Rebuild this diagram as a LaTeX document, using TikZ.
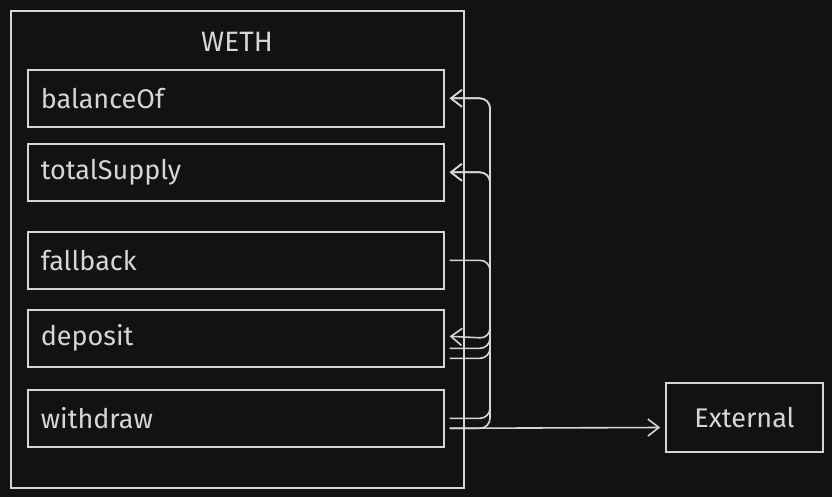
\documentclass[tikz,border=0pt]{standalone}
\usepackage{fontspec}
\setmainfont{Fira Sans}
\usetikzlibrary{arrows.meta,calc,positioning}

\definecolor{bgdark}{HTML}{121212}
\definecolor{inkgray}{HTML}{D6D6D6}

\tikzset{
  fnbox/.style={draw=inkgray, line width=1.6pt, minimum width=416pt, minimum height=57pt,
    anchor=north west, text=inkgray, align=left, text width=390pt, inner sep=0pt,
    font=\fontsize{27}{29}\selectfont},
  conn/.style={draw=inkgray, line width=1.6pt, rounded corners=10pt},
  arr/.style={conn, -{Straight Barb[length=11pt, width=17pt, line width=1.6pt]}},
}

\begin{document}
\begin{tikzpicture}[x=1pt, y=-1pt]
  \fill[bgdark] (0,0) rectangle (832,497);
  \useasboundingbox (0,0) rectangle (832,497);

  % contract and its functions
  \node [draw=inkgray, line width=1.6pt, minimum width=453pt, minimum height=477pt,
    anchor=north west, inner sep=0pt] (weth) at (10,10) {};
  \node [text=inkgray, font=\fontsize{28}{30}\selectfont] (wethlabel) at (237,42) {WETH};
  \node [fnbox] (balanceof) at (27,69) {balanceOf};
  \node [fnbox, below=15.4pt of balanceof.south west, anchor=north west] (totalsupply) {totalSupply};
  \node [fnbox] (fallback) at (27,231) {fallback};
  \node [fnbox, below=19.4pt of fallback.south west, anchor=north west] (deposit) {deposit};
  \node [fnbox, below=21.4pt of deposit.south west, anchor=north west] (withdraw) {withdraw};

  \node [draw=inkgray, line width=1.6pt, minimum width=157pt, minimum height=69pt,
    text=inkgray, font=\fontsize{27}{29}\selectfont] (external) at (744.5,417.5) {External};

  % calls on the right side
  \coordinate (bus) at (490,0);
  \coordinate (extin) at ($(external.west)+(-5,10)$);
  \draw [arr] ([xshift=5pt]fallback.east) -| (bus |- deposit.east) -- ([xshift=5pt,yshift=2pt]deposit.east);
  \draw [arr] ($(deposit.east)+(5,10)$) -| (bus |- balanceof.east) -- ([xshift=5pt]balanceof.east);
  \draw [arr] ($(deposit.east)+(5,20)$) -| (bus |- totalsupply.east) -- ([xshift=5pt]totalsupply.east);
  \draw [arr] ($(withdraw.east)+(5,0)$) -| (bus |- balanceof.east) -- ([xshift=5pt]balanceof.east);
  \draw [arr] ($(withdraw.east)+(5,10)$) -| (bus |- totalsupply.east) -- ([xshift=5pt]totalsupply.east);
  \draw [arr] ($(withdraw.east)+(5,10)$) -- (extin);
\end{tikzpicture}
\end{document}
